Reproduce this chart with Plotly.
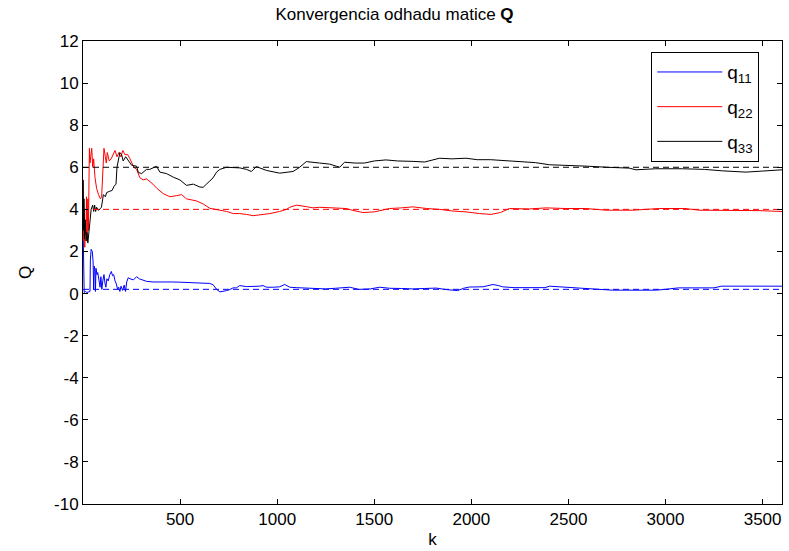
import plotly.graph_objects as go

# Estimated diagonal entries of Q over the iterations k (k, value)
q11_pts = [(1, 2.9), (3, 0.6), (6, 0.05), (12, 0.1), (20, 0.05), (30, 0.08), (36, 0.1), (38, 1.6),
           (42, 2.1), (48, 2.0), (52, 1.5), (55, 0.2), (58, 1.3), (62, 1.1), (64, 0.1), (67, 1.2),
           (72, 0.9), (76, 1.0), (80, 0.7), (84, 0.5), (88, 0.3), (92, 0.8), (97, 0.2), (102, 0.6),
           (108, 0.9), (113, 0.5), (118, 0.3), (123, 0.7), (130, 0.6), (138, 0.9), (146, 1.05),
           (152, 0.85), (158, 0.9), (165, 0.6), (172, 0.45), (178, 0.2), (184, 0.3), (190, 0.1),
           (196, 0.35), (204, 0.15), (212, 0.4), (219, 0.1), (225, 0.55), (233, 0.75), (242, 0.7),
           (260, 0.65), (276, 0.8), (290, 0.7), (302, 0.65), (327, 0.58), (360, 0.55), (413, 0.56),
           (460, 0.55), (499, 0.54), (540, 0.52), (568, 0.5), (600, 0.48), (619, 0.48), (653, 0.48),
           (670, 0.42), (688, 0.2), (705, 0.08), (722, 0.1), (740, 0.14), (756, 0.19), (773, 0.27),
           (790, 0.27), (807, 0.38), (842, 0.33), (880, 0.33), (910, 0.35), (927, 0.38), (945, 0.3),
           (980, 0.3), (1013, 0.32), (1039, 0.43), (1065, 0.3), (1099, 0.28), (1150, 0.25),
           (1184, 0.24), (1250, 0.22), (1300, 0.25), (1373, 0.3), (1420, 0.2), (1480, 0.22),
           (1527, 0.3), (1580, 0.25), (1640, 0.24), (1699, 0.22), (1760, 0.24), (1819, 0.26),
           (1870, 0.19), (1929, 0.14), (1960, 0.25), (1990, 0.31), (2060, 0.32), (2111, 0.43),
           (2140, 0.38), (2160, 0.32), (2220, 0.28), (2300, 0.27), (2380, 0.28), (2402, 0.35),
           (2480, 0.3), (2560, 0.28), (2642, 0.22), (2727, 0.16), (2800, 0.16), (2888, 0.14),
           (2950, 0.16), (3000, 0.2), (3066, 0.27), (3150, 0.27), (3250, 0.27), (3288, 0.35),
           (3400, 0.35), (3600, 0.35)]

q22_pts = [(1, 5.4), (3, 2.5), (6, 4.0), (9, 2.2), (12, 3.5), (15, 2.8), (18, 4.6), (21, 2.5),
           (25, 4.5), (28, 3.0), (31, 5.5), (33, 6.9), (36, 6.2), (40, 6.6), (45, 6.9), (50, 6.0),
           (55, 6.4), (62, 5.5), (70, 5.0), (80, 4.7), (90, 4.5), (96, 4.6), (100, 5.5), (104, 6.2),
           (108, 6.9), (115, 6.5), (120, 6.2), (125, 6.7), (135, 6.3), (145, 6.4), (156, 6.6),
           (165, 6.8), (175, 6.5), (185, 6.7), (195, 6.5), (205, 6.8), (216, 6.6), (230, 6.6),
           (242, 6.4), (262, 6.0), (276, 5.9), (293, 5.5), (310, 5.4), (327, 5.45), (360, 5.2),
           (380, 5.0), (413, 4.75), (447, 4.6), (482, 4.65), (508, 4.7), (533, 4.5), (585, 4.4),
           (620, 4.25), (653, 4.05), (705, 3.96), (740, 3.9), (774, 3.8), (807, 3.8), (842, 3.76),
           (876, 3.7), (902, 3.73), (962, 3.8), (1013, 3.9), (1048, 4.0), (1065, 4.1), (1099, 4.2),
           (1150, 4.13), (1185, 4.07), (1219, 4.1), (1288, 4.07), (1356, 4.04), (1390, 3.95),
           (1442, 3.85), (1500, 3.88), (1579, 4.04), (1640, 4.07), (1699, 4.12), (1770, 4.04),
           (1836, 4.0), (1905, 3.92), (1973, 3.88), (2042, 3.8), (2102, 3.76), (2150, 3.85),
           (2196, 4.04), (2300, 4.02), (2385, 4.07), (2487, 4.04), (2590, 4.04), (2693, 3.96),
           (2830, 3.96), (2968, 4.04), (3100, 4.04), (3174, 3.96), (3345, 3.96), (3482, 3.94),
           (3600, 3.9)]

q33_pts = [(1, 5.4), (3, 3.0), (5, 4.5), (8, 2.6), (12, 3.5), (16, 2.5), (20, 2.9), (25, 2.4),
           (30, 3.0), (36, 3.4), (42, 4.0), (50, 4.2), (55, 3.9), (60, 4.2), (65, 3.9), (70, 4.1),
           (80, 3.95), (95, 4.1), (105, 4.7), (115, 4.6), (122, 4.8), (135, 4.85), (150, 4.9),
           (160, 5.1), (170, 5.2), (175, 6.0), (182, 6.4), (190, 6.7), (199, 6.6), (207, 6.3),
           (220, 6.5), (235, 6.3), (250, 6.1), (276, 6.05), (285, 5.75), (302, 5.7), (310, 5.77),
           (327, 5.9), (344, 5.9), (379, 6.05), (396, 5.77), (430, 5.7), (465, 5.53), (499, 5.4),
           (533, 5.14), (568, 5.2), (602, 5.06), (619, 5.05), (636, 5.2), (653, 5.37), (670, 5.5),
           (688, 5.77), (705, 5.9), (739, 6.0), (756, 6.0), (808, 5.97), (842, 5.9), (867, 5.8),
           (893, 6.03), (945, 5.85), (1013, 5.72), (1082, 5.8), (1116, 6.0), (1150, 6.27),
           (1219, 6.2), (1270, 6.15), (1305, 6.05), (1322, 6.0), (1347, 6.24), (1400, 6.2),
           (1450, 6.2), (1500, 6.3), (1560, 6.35), (1620, 6.3), (1700, 6.28), (1760, 6.25),
           (1836, 6.43), (1900, 6.4), (1973, 6.43), (2030, 6.36), (2100, 6.36), (2179, 6.3),
           (2260, 6.25), (2330, 6.22), (2402, 6.12), (2487, 6.1), (2600, 6.05), (2700, 6.0),
           (2813, 5.96), (2848, 5.88), (2950, 5.93), (3088, 5.93), (3200, 5.9), (3294, 5.83),
           (3414, 5.77), (3500, 5.82), (3600, 5.88)]

# True diagonal values of Q (dashed reference lines)
q_true = [0.2, 4.0, 6.0]

series_names = ["q<sub>11</sub>", "q<sub>22</sub>", "q<sub>33</sub>"]
series_colors = ["#0000ff", "#ff0000", "#000000"]

k_max = 3600
x_ticks = [500, 1000, 1500, 2000, 2500, 3000, 3500]
y_ticks = list(range(-10, 13, 2))
y_ticktext = [str(v) for v in y_ticks]  # plain hyphen minus signs

FONT = "Liberation Sans, Arial, sans-serif"

fig = go.Figure()

for i, (pts, name, color) in enumerate(zip([q11_pts, q22_pts, q33_pts], series_names, series_colors)):
    fig.add_trace(go.Scatter(
        x=[p[0] for p in pts], y=[p[1] for p in pts], mode="lines", name=name,
        legendgroup=f"g{i}", line=dict(color=color, width=1)))

for val, color in zip(q_true, series_colors):
    fig.add_trace(go.Scatter(
        x=[0, k_max], y=[val, val], mode="lines", showlegend=False,
        line=dict(color=color, width=1, dash="6px,4px")))

axis_common = dict(
    showline=True, linecolor="#000000", linewidth=1, mirror="ticks",
    ticks="inside", ticklen=5, tickcolor="#000000", showgrid=False, zeroline=False,
    tickfont=dict(family=FONT, size=17, color="#000000"),
)

fig.update_xaxes(range=[0, k_max], tickvals=x_ticks,
                 title=dict(text="k", font=dict(family=FONT, size=17, color="#000000"), standoff=4),
                 **axis_common)
fig.update_yaxes(range=[-10, 12], tickvals=y_ticks, ticktext=y_ticktext,
                 title=dict(text="Q", font=dict(family=FONT, size=17, color="#000000"), standoff=18),
                 **axis_common)

fig.update_layout(
    width=789, height=551,
    margin=dict(l=83, r=6, t=41, b=44),
    paper_bgcolor="white", plot_bgcolor="white",
    title=dict(text="Konvergencia odhadu matice <b>Q</b>", x=0.5, xanchor="center", y=0.985, yanchor="top",
               font=dict(family=FONT, size=17, color="#000000")),
    showlegend=True,
    legend=dict(x=0.813, y=0.976, xanchor="left", yanchor="top", bgcolor="white",
                bordercolor="#000000", borderwidth=1, itemwidth=65,
                font=dict(family=FONT, size=19, color="#000000"), tracegroupgap=7),
)

fig.write_html("out.html")
